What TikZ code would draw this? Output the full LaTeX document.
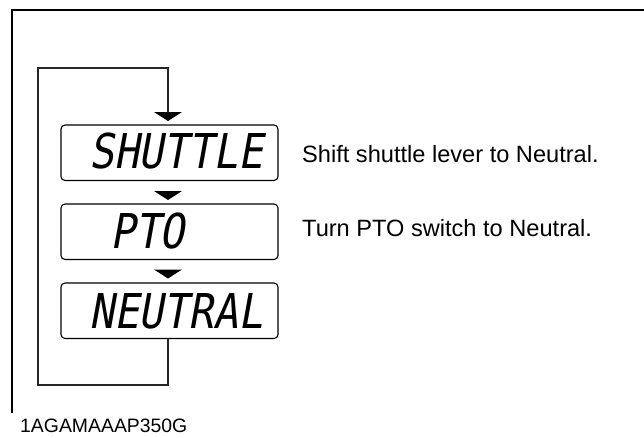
\documentclass[tikz,border=0pt]{standalone}
\usepackage{fontspec}
\setmainfont{Liberation Sans}
\newfontfamily\lcdfont[FakeSlant=0.18,FakeStretch=0.86]{DejaVu Sans Mono}
\begin{document}
\begin{tikzpicture}[x=1pt,y=-1pt,
  frameline/.style={line width=1.3pt,black},
  lcdbox/.style={draw,line width=1.1pt,rounded corners=4pt,minimum width=217pt,minimum height=55.5pt,inner sep=0pt},
  lcdtext/.style={anchor=base west,inner sep=0pt,font=\lcdfont\fontsize{48}{48}\selectfont},
  note/.style={anchor=base west,inner sep=0pt,font=\fontsize{23.6}{26}\selectfont},
  loopline/.style={line width=1.1pt,black!85},
  tip/.style={fill=black}
]
\useasboundingbox (0,0) rectangle (644,437);
% frame
\draw[frameline] (12,413) -- (12,9.5);
\draw[line width=2pt] (11.4,9.5) -- (644,9.5);
% boxes
\node[lcdbox] (s) at (169.5,152.75) {};
\node[lcdbox] (p) at (169.5,231.75) {};
\node[lcdbox] (n) at (169.5,310.75) {};
% LCD texts
\node[lcdtext] (st) at (89,168.5) {SHUTTLE};
\node[lcdtext] (pt) at (110,248.5) {PTO};
\node[lcdtext] (nt) at (89,328) {NEUTRAL};
% arrow tips
\coordinate (t1) at (168,121);
\coordinate (t2) at (168,200);
\coordinate (t3) at (168,278.5);
\fill[tip] (t1) -- ++(-14,-9) -- ++(28,0) -- cycle;
\fill[tip] (t2) -- ++(-14,-9) -- ++(28,0) -- cycle;
\fill[tip] (t3) -- ++(-14,-9) -- ++(28,0) -- cycle;
% loop
\coordinate (nb) at (168,338.5);
\coordinate (bl) at (38,385);
\coordinate (tl) at (38,68);
\coordinate (t1top) at (168,112);
\draw[loopline] (nb) |- (bl) -- (tl) -| (t1top);
% notes
\node[note] (n1) at (302,162) {Shift shuttle lever to Neutral.};
\node[note] (n2) at (302,236.5) {Turn PTO switch to Neutral.};
\node[anchor=base west,inner sep=0pt,font=\fontsize{19.4}{22}\selectfont] (code) at (20,432) {1AGAMAAAP350G};
\end{tikzpicture}
\end{document}
